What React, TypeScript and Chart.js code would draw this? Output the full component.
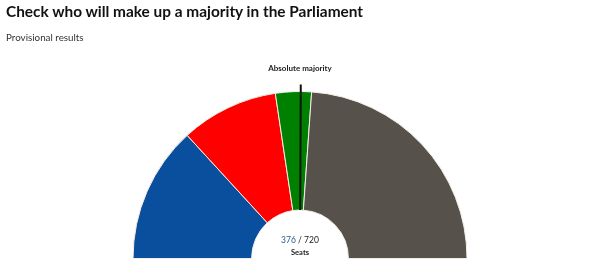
import React, { useEffect, useRef } from "react";
import { Chart, registerables } from "chart.js";

Chart.register(...registerables);

const parties = ["Blue group", "Red group", "Green group", "Others"];
const seats = [190, 136, 50, 344];
const colors = ["#0a4f9e", "#ff0000", "#008000", "#57514b"];
const totalSeats = 720;
const majoritySeats = 361;
const highlightedSeats = 376;

const FONT = "Lato, 'Open Sans', sans-serif";

const majorityPlugin = {
  id: "majorityLine",
  afterDatasetsDraw(chart: any) {
    const meta = chart.getDatasetMeta(0);
    const arc = meta.data[0];
    if (!arc) return;
    const { x, y, outerRadius, innerRadius } = arc.getProps(["x", "y", "outerRadius", "innerRadius"], true);
    const angle = -Math.PI + (majoritySeats / totalSeats) * Math.PI;
    const ctx = chart.ctx;
    ctx.save();
    ctx.strokeStyle = "#111";
    ctx.lineWidth = 2;
    ctx.beginPath();
    ctx.moveTo(x + Math.cos(angle) * (outerRadius + 7), y + Math.sin(angle) * (outerRadius + 7));
    ctx.lineTo(x + Math.cos(angle) * innerRadius, y + Math.sin(angle) * innerRadius);
    ctx.stroke();
    ctx.fillStyle = "#222";
    ctx.font = `bold 8px ${FONT}`;
    ctx.textAlign = "center";
    ctx.textBaseline = "middle";
    ctx.fillText("Absolute majority", x, y - outerRadius - 23);
    ctx.restore();
  },
};

export default function App() {
  const ref = useRef<HTMLCanvasElement>(null);
  useEffect(() => {
    if (!ref.current) return;
    const chart = new Chart(ref.current, {
      type: "doughnut",
      data: {
        labels: parties,
        datasets: [
          {
            data: seats,
            backgroundColor: colors,
            borderColor: "#f2ede4",
            borderWidth: 1,
          },
        ],
      },
      options: {
        animation: false,
        responsive: false,
        rotation: -90,
        circumference: 180,
        cutout: "29%",
        layout: { padding: { left: 131, right: 131, top: 91, bottom: 5 } },
        plugins: { legend: { display: false }, tooltip: { enabled: false } },
      },
      plugins: [majorityPlugin],
    });
    return () => chart.destroy();
  }, []);

  return (
    <div style={{ position: "absolute", left: 0, top: 0, width: 600, height: 264, background: "#fff", fontFamily: FONT }}>
      <canvas ref={ref} width={600} height={264} style={{ position: "absolute", left: 0, top: 0 }} />
      <div style={{ position: "absolute", left: 6, top: 2, fontSize: 15.4, fontWeight: 700, color: "#111", whiteSpace: "nowrap" }}>
        Check who will make up a majority in the Parliament
      </div>
      <div style={{ position: "absolute", left: 6, top: 31, fontSize: 9.8, color: "#333", whiteSpace: "nowrap" }}>
        Provisional results
      </div>
      <div style={{ position: "absolute", left: 250, width: 100, top: 234, textAlign: "center", fontSize: 8.5, color: "#222", lineHeight: "12px" }}>
        <span style={{ color: "#2a5b8f" }}>{highlightedSeats}</span> / {totalSeats}
      </div>
      <div style={{ position: "absolute", left: 250, width: 100, top: 247, textAlign: "center", fontSize: 7.5, fontWeight: 700, color: "#222", lineHeight: "12px" }}>
        Seats
      </div>
    </div>
  );
}
